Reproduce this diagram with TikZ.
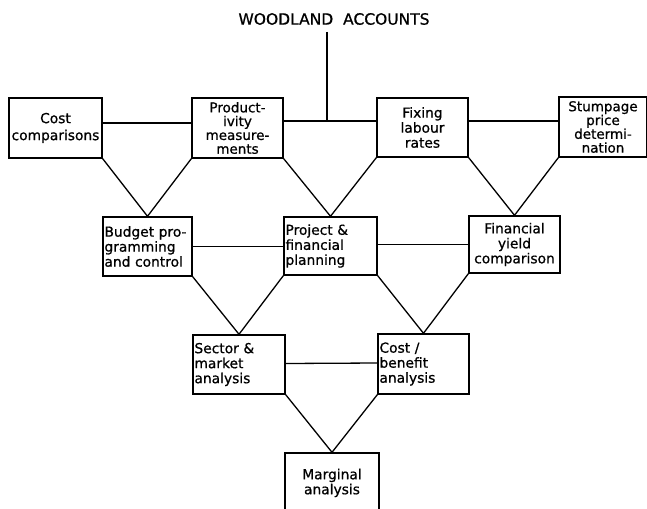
\documentclass[tikz,border=0pt]{standalone}
\usepackage{fontspec}
\setmainfont{DejaVu Sans}[FakeBold=0.8]
\begin{document}
\begin{tikzpicture}[x=1pt,y=-1pt,
  every node/.style={font=\fontsize{13.8}{15}\selectfont},
  box/.style={draw, line width=1.4pt, inner xsep=1.5pt, inner ysep=1pt, align=center},
  conn/.style={line width=1.3pt}]
\useasboundingbox (0,0) rectangle (647,508);
\clip (0,0) rectangle (647,508);
% title
\node[font=\fontsize{15.5}{16}\selectfont] (title) at (334,19) {WOODLAND\ \ ACCOUNTS};
\coordinate (top) at (327,32);
\coordinate (j) at (327,121);
% row 1
\node[box, text width=90pt, minimum height=60pt, text depth=20pt] (cost) at (55.5,128) {Cost\\[2pt]comparisons};
\node[box, text width=88pt, minimum height=60pt, font=\fontsize{13.5}{13.8}\selectfont] (prod) at (237.5,128) {Product-\\ivity\\measure-\\ments};
\node[box, text width=88pt, minimum height=59pt] (fix) at (422.5,127.5) {Fixing\\labour\\rates};
\node[box, text width=85pt, minimum height=60pt, font=\fontsize{13.5}{13.8}\selectfont] (stump) at (603,127) {Stumpage\\price\\determi-\\nation};
% row 2
\node[box, text width=86pt, minimum height=59pt, align=left] (budget) at (147.5,246.5) {Budget pro-\\gramming\\and control};
\node[box, text width=90pt, minimum height=58pt, align=left] (proj) at (330.5,246) {Project \&\\financial\\planning};
\node[box, text width=88pt, minimum height=57pt] (fin) at (514.5,244.5) {Financial\\yield\\comparison};
% row 3
\node[box, text width=89pt, minimum height=59pt, align=left] (sector) at (239,364.5) {Sector \&\\market\\analysis};
\node[box, text width=88pt, minimum height=60pt, align=left] (cb) at (423.5,364) {Cost /\\benefit\\analysis};
% row 4
\node[box, text width=91pt, minimum height=64pt, text depth=22pt] (marg) at (332,485) {Marginal\\analysis};
% connectors
\draw[conn] (top) -- (j);
\draw[conn] ([yshift=5pt]cost.east) -- ([yshift=5pt]prod.west);
\draw[conn] (prod.east |- j) -- (j) -- (fix.west |- j);
\draw[conn] (fix.east |- j) -- (stump.west |- j);
\draw[conn] (cost.south east) -- (budget.north) -- (prod.south west);
\draw[conn] (prod.south east) -- (proj.north) -- (fix.south west);
\draw[conn] (fix.south east) -- (fin.north) -- (stump.south west);
\draw[conn] (budget.east) -- (proj.west |- budget.east);
\draw[conn] (proj.east |- fin.west) -- (fin.west);
\draw[conn] (budget.south east) -- (sector.north) -- (proj.south west);
\draw[conn] (proj.south east) -- (cb.north) -- (fin.south west);
\draw[conn] ([yshift=1pt]sector.east) -- ([yshift=1pt]cb.west);
\draw[conn] (sector.south east) -- (marg.north) -- (cb.south west);
\end{tikzpicture}
\end{document}
